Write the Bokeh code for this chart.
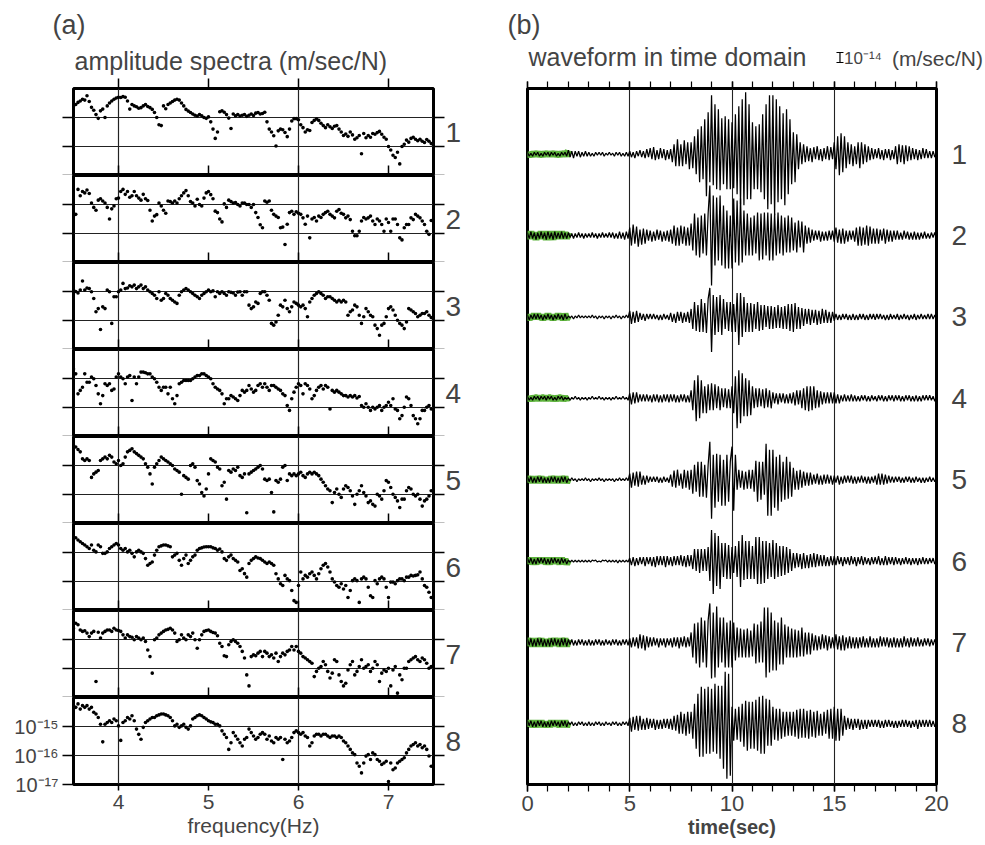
import numpy as np
from bokeh.plotting import figure
from bokeh.layouts import row, column
from bokeh.models import (Range1d, FixedTicker, LinearAxis, LogAxis, LogScale, Grid,
                          CustomJSTickFormatter, Label, Whisker, TeeHead, ColumnDataSource)
from bokeh.embed import file_html
from bokeh.resources import INLINE

FONT = "Liberation Sans"
GREEN = "#5db33c"

# ---------------- data ----------------
freq_range = (3.5, 7.5)      # Hz
freq_start = 3.5             # Hz, first spectral sample
freq_step = 0.025            # Hz
freq_ticks = [4, 5, 6, 7]
freq_grid = [4, 6]
amp_range = (1e-17, 1e-14)   # m/sec/N
amp_ticks = [1e-17, 1e-16, 1e-15]
amp_grid = [1e-16, 1e-15]

# log10 of amplitude spectra (m/sec/N), one list per station
spec1 = [-14.6, -14.55, -14.48, -14.43, -14.37, -14.4, -14.25, -14.45,
         -14.65, -14.75, -14.9, -15.03, -14.77, -14.71, -15.0, -14.6,
         -14.5, -14.43, -14.37, -14.33, -14.3, -14.31, -14.28, -14.3,
         -14.43, -14.71, -14.55, -14.6, -14.63, -14.68, -14.66, -14.6,
         -14.55, -14.62, -14.66, -14.72, -14.83, -15.0, -15.25, -15.28,
         -14.6, -14.7, -14.55, -14.5, -14.45, -14.4, -14.37, -14.4,
         -14.5, -14.6, -14.72, -14.78, -14.83, -14.88, -14.92, -14.95,
         -14.9, -14.94, -15.0, -15.03, -14.98, -15.15, -15.4, -15.72,
         -15.5, -14.8, -14.77, -14.82, -14.9, -15.02, -15.38, -14.88,
         -14.94, -14.9, -14.95, -14.92, -14.9, -14.96, -14.92, -14.88,
         -14.93, -14.85, -14.83, -14.88, -14.86, -14.82, -15.15, -15.4,
         -15.5, -15.63, -15.98, -15.46, -15.4, -15.42, -15.52, -15.66,
         -15.4, -15.12, -15.04, -15.04, -15.08, -15.25, -15.35, -15.5,
         -15.42, -15.45, -15.17, -15.1, -15.05, -15.1, -15.2, -15.28,
         -15.35, -15.25, -15.32, -15.38, -15.3, -15.28, -15.4, -15.5,
         -15.62, -15.57, -15.65, -15.5, -15.6, -15.75, -15.7, -15.62,
         -16.25, -15.55, -15.7, -15.62, -15.68, -15.55, -15.58, -15.52,
         -15.48, -15.58, -15.68, -15.75, -16.0, -16.12, -16.3, -16.38,
         -16.2, -16.6, -16.0, -15.92, -15.78, -15.85, -15.72, -15.68,
         -15.75, -15.8, -15.75, -15.82, -15.86, -15.76, -15.82, -15.9]
spec2 = [-15.0, -15.34, -14.48, -14.7, -14.55, -14.6, -14.5, -14.62,
         -14.95, -15.1, -15.2, -14.85, -14.8, -14.88, -14.95, -15.1,
         -15.5, -15.15, -15.05, -14.8, -14.78, -14.55, -14.48, -14.65,
         -14.55, -14.75, -14.7, -14.55, -14.7, -14.78, -14.85, -14.65,
         -14.8, -14.86, -15.2, -15.57, -15.4, -15.35, -14.95, -15.05,
         -15.2, -15.3, -14.88, -14.9, -14.95, -14.88, -14.95, -14.8,
         -14.7, -14.6, -14.52, -14.7, -14.9, -14.95, -15.05, -14.82,
         -15.0, -15.05, -14.78, -14.6, -14.55, -14.66, -14.8, -15.23,
         -15.28, -15.5, -15.6, -14.98, -15.1, -14.85, -14.9, -14.95,
         -14.93, -15.0, -15.05, -14.95, -14.95, -15.0, -15.0, -15.1,
         -15.0, -15.28, -15.45, -15.7, -15.8, -14.88, -14.92, -14.88,
         -15.2, -15.34, -15.4, -15.45, -15.8, -15.78, -16.38, -15.68,
         -15.28, -15.23, -15.34, -15.25, -15.3, -15.34, -15.46, -15.68,
         -15.4, -16.15, -15.5, -15.45, -15.57, -15.4, -15.45, -15.34,
         -15.28, -15.23, -15.34, -15.4, -15.46, -15.23, -15.17, -15.3,
         -15.34, -15.46, -15.4, -15.52, -15.92, -16.08, -16.08, -15.92,
         -15.57, -15.45, -15.5, -15.46, -15.4, -15.57, -15.69, -15.5,
         -15.57, -15.69, -15.92, -15.5, -15.62, -15.92, -15.5, -15.5,
         -15.69, -16.15, -16.22, -15.8, -15.69, -15.69, -15.46, -15.52,
         -15.34, -15.4, -15.46, -15.57, -15.69, -15.92, -16.03, -15.55]
spec3 = [-14.95, -15.0, -15.05, -14.95, -14.64, -14.95, -14.88, -14.9,
         -15.01, -15.24, -15.7, -15.59, -16.31, -15.53, -15.59, -14.95,
         -15.01, -16.1, -15.18, -15.18, -15.01, -14.95, -14.72, -14.9,
         -14.88, -14.8, -14.84, -14.78, -14.9, -14.84, -14.78, -14.9,
         -14.84, -14.95, -15.01, -15.07, -15.13, -15.24, -15.01, -15.3,
         -15.24, -15.07, -15.13, -15.24, -15.3, -15.36, -15.41, -15.13,
         -15.01, -14.95, -14.9, -14.95, -15.01, -15.07, -15.13, -15.18,
         -15.24, -15.13, -15.07, -15.01, -14.95, -15.01, -14.98, -15.18,
         -15.01, -15.07, -15.01, -15.07, -15.13, -15.01, -15.03, -15.05,
         -15.13, -15.02, -15.01, -15.13, -15.01, -15.01, -15.47, -15.59,
         -15.53, -15.36, -15.41, -15.07, -15.01, -15.01, -15.13, -15.3,
         -16.1, -16.16, -16.05, -15.82, -15.47, -15.53, -15.3, -15.59,
         -15.7, -15.53, -15.36, -15.41, -15.47, -15.53, -15.47, -15.59,
         -15.87, -15.36, -15.24, -15.13, -15.07, -15.01, -15.07, -15.13,
         -15.24, -15.18, -15.18, -15.24, -15.3, -15.36, -15.3, -15.36,
         -15.3, -15.36, -15.82, -15.7, -15.64, -15.47, -15.53, -15.82,
         -16.1, -15.87, -15.59, -15.7, -15.82, -15.87, -16.16, -16.28,
         -16.51, -16.16, -16.1, -15.87, -15.59, -15.53, -15.64, -15.82,
         -15.99, -16.1, -16.16, -16.28, -16.05, -15.59, -15.64, -15.7,
         -15.76, -15.87, -15.82, -15.76, -15.76, -15.7, -15.82, -15.9]
spec4 = [-14.67, -14.84, -15.53, -15.41, -15.3, -14.84, -15.13, -15.13,
         -14.95, -15.01, -15.24, -15.53, -15.87, -15.59, -15.18, -15.24,
         -15.18, -15.41, -15.36, -14.95, -14.84, -14.95, -15.01, -15.18,
         -14.95, -14.9, -15.76, -14.95, -15.18, -14.95, -14.78, -14.78,
         -14.8, -14.84, -14.84, -14.95, -15.01, -15.13, -15.3, -15.41,
         -15.3, -15.3, -15.53, -15.3, -15.7, -15.87, -15.59, -15.18,
         -15.13, -15.07, -15.07, -15.07, -15.07, -15.01, -14.95, -14.9,
         -14.9, -14.84, -14.84, -14.9, -14.95, -15.01, -15.18, -15.3,
         -15.36, -15.41, -15.53, -15.87, -15.7, -15.7, -15.59, -15.64,
         -15.7, -15.76, -15.59, -15.41, -15.47, -15.41, -15.24, -15.36,
         -15.47, -15.41, -15.24, -15.18, -15.3, -15.18, -15.3, -15.41,
         -15.24, -15.24, -15.3, -15.36, -15.41, -15.53, -15.59, -15.93,
         -16.1, -15.7, -15.47, -15.3, -15.18, -15.24, -15.53, -15.18,
         -15.24, -15.36, -15.7, -15.59, -15.41, -15.3, -15.24, -15.36,
         -15.24, -15.3, -16.05, -15.41, -15.47, -15.41, -15.47, -15.53,
         -15.59, -15.59, -15.64, -15.59, -15.64, -15.59, -15.67, -15.62,
         -15.93, -15.99, -15.87, -15.99, -16.1, -15.99, -16.05, -15.99,
         -15.93, -16.1, -15.99, -15.93, -15.82, -15.93, -15.7, -16.05,
         -16.1, -16.39, -16.28, -15.99, -15.64, -15.7, -15.93, -16.28,
         -16.39, -16.56, -16.39, -16.1, -16.1, -15.99, -15.93, -16.05]
spec5 = [-14.3, -14.36, -14.45, -14.53, -14.77, -14.83, -14.77, -14.83,
         -15.41, -15.29, -15.23, -15.17, -14.83, -14.77, -14.71, -14.77,
         -14.65, -14.71, -14.88, -14.94, -14.83, -15.0, -14.94, -14.71,
         -14.53, -14.48, -14.42, -14.53, -14.59, -14.65, -14.71, -14.77,
         -14.94, -15.06, -15.29, -15.64, -15.06, -14.94, -14.83, -14.71,
         -14.77, -14.83, -14.88, -14.94, -15.0, -15.12, -15.17, -15.23,
         -15.99, -15.35, -15.41, -15.47, -15.0, -14.94, -15.06, -15.52,
         -15.64, -15.93, -16.05, -15.81, -15.29, -14.77, -14.83, -14.88,
         -15.06, -15.12, -15.7, -15.58, -16.16, -15.17, -15.23, -15.12,
         -15.17, -15.06, -15.35, -15.41, -15.29, -16.63, -15.29, -15.23,
         -15.17, -15.12, -15.06, -15.0, -15.12, -15.47, -15.52, -15.47,
         -15.93, -16.6, -15.52, -15.58, -15.47, -15.06, -15.0, -15.52,
         -15.29, -15.35, -15.29, -15.35, -15.29, -15.23, -15.35, -15.41,
         -15.29, -15.23, -15.29, -15.23, -15.29, -15.35, -15.47, -15.58,
         -15.7, -15.81, -15.87, -16.28, -15.93, -15.81, -15.99, -16.1,
         -15.81, -15.7, -15.76, -15.87, -16.05, -16.34, -15.99, -15.87,
         -15.7, -15.93, -16.05, -16.28, -16.22, -16.34, -16.4, -15.99,
         -16.05, -16.16, -15.87, -15.52, -15.58, -15.76, -15.99, -16.1,
         -16.22, -16.45, -16.16, -16.16, -15.87, -15.76, -15.81, -15.99,
         -16.05, -15.99, -16.16, -16.4, -16.22, -16.16, -16.05, -15.87]
spec6 = [-14.51, -14.49, -14.57, -14.63, -14.69, -14.74, -14.8, -14.86,
         -14.74, -14.92, -14.98, -14.74, -14.8, -15.03, -15.03, -14.98,
         -14.86, -14.8, -14.74, -14.69, -14.74, -14.86, -14.92, -14.86,
         -14.98, -14.92, -15.03, -15.15, -14.98, -14.92, -14.98, -15.03,
         -15.21, -15.44, -15.38, -15.33, -15.09, -14.92, -14.8, -14.77,
         -14.74, -14.74, -14.77, -14.8, -15.15, -15.09, -15.03, -15.27,
         -15.44, -15.21, -15.09, -15.38, -15.27, -15.15, -15.09, -14.92,
         -14.86, -14.84, -14.81, -14.8, -14.8, -14.8, -14.84, -14.86,
         -14.92, -14.88, -14.98, -15.21, -15.27, -15.15, -15.09, -15.21,
         -15.27, -15.33, -15.62, -15.56, -15.73, -15.85, -15.38, -15.27,
         -15.21, -15.15, -15.19, -15.21, -15.27, -15.33, -15.38, -15.33,
         -15.38, -15.44, -15.73, -15.91, -16.08, -16.14, -15.79, -15.91,
         -15.97, -16.31, -16.66, -16.72, -16.14, -15.67, -15.91, -15.79,
         -15.85, -15.73, -15.67, -15.79, -15.91, -15.73, -15.56, -15.44,
         -15.38, -15.5, -15.67, -15.91, -16.02, -16.14, -16.2, -16.08,
         -16.26, -16.14, -16.55, -16.31, -15.97, -15.91, -15.97, -16.72,
         -15.91, -15.85, -15.91, -16.2, -16.49, -16.55, -15.97, -16.08,
         -15.91, -15.85, -15.91, -16.2, -16.55, -16.02, -16.02, -16.08,
         -15.97, -15.91, -15.91, -15.97, -15.85, -15.85, -15.79, -15.81,
         -15.79, -15.77, -15.67, -15.91, -16.14, -16.2, -16.37, -16.55]
spec7 = [-14.61, -14.44, -14.49, -14.67, -14.72, -14.7, -14.78, -14.9,
         -14.78, -14.72, -16.45, -14.75, -14.95, -14.78, -14.72, -14.67,
         -14.67, -14.72, -14.61, -14.67, -14.69, -14.72, -14.84, -14.95,
         -14.84, -14.9, -14.92, -15.01, -14.9, -14.95, -15.01, -14.95,
         -15.07, -15.36, -15.59, -16.16, -15.01, -14.95, -14.84, -14.78,
         -14.72, -14.67, -14.65, -14.61, -14.67, -14.78, -15.07, -15.01,
         -14.84, -14.95, -15.01, -14.84, -14.9, -14.78, -15.01, -15.3,
         -15.01, -14.84, -14.72, -14.69, -14.67, -14.72, -14.76, -14.78,
         -14.87, -15.13, -15.24, -15.56, -15.59, -15.18, -15.07, -15.01,
         -15.07, -15.13, -15.24, -15.41, -15.64, -16.22, -16.6, -15.59,
         -15.53, -15.56, -15.47, -15.41, -15.59, -15.41, -15.47, -15.59,
         -15.53, -15.64, -15.47, -15.76, -15.59, -15.47, -15.53, -15.41,
         -15.36, -15.24, -15.36, -15.24, -15.41, -15.47, -15.59, -15.64,
         -15.7, -15.76, -15.82, -16.28, -16.1, -15.99, -15.93, -15.76,
         -15.87, -16.1, -16.33, -16.16, -15.7, -15.76, -16.22, -16.45,
         -16.6, -16.51, -16.05, -15.87, -15.76, -16.22, -16.1, -15.93,
         -15.7, -15.99, -15.93, -15.87, -16.1, -15.99, -15.76, -15.87,
         -16.45, -16.16, -16.05, -16.1, -15.99, -16.6, -16.05, -15.93,
         -16.85, -16.22, -16.39, -15.99, -15.99, -15.76, -15.7, -15.64,
         -15.59, -15.7, -15.76, -15.64, -15.7, -15.82, -15.99, -15.93]
spec8 = [-14.28, -14.34, -14.22, -14.4, -14.28, -14.34, -14.28, -14.4,
         -14.34, -14.51, -14.57, -14.69, -14.92, -15.53, -14.92, -14.86,
         -14.8, -14.86, -14.74, -14.8, -14.98, -15.48, -14.86, -14.8,
         -14.69, -14.74, -14.63, -14.8, -15.09, -15.27, -15.44, -15.03,
         -14.86, -14.8, -14.74, -14.69, -14.69, -14.63, -14.6, -14.57,
         -14.57, -14.6, -14.63, -14.69, -14.8, -14.98, -14.92, -15.03,
         -14.98, -14.92, -15.03, -15.09, -14.98, -14.74, -14.69, -14.63,
         -14.6, -14.63, -14.69, -14.74, -14.8, -14.84, -14.86, -14.92,
         -14.92, -14.98, -15.15, -15.27, -15.38, -15.79, -15.56, -15.21,
         -15.33, -15.44, -15.56, -15.67, -15.44, -15.38, -15.09, -15.21,
         -15.33, -15.44, -15.38, -15.27, -15.21, -15.27, -15.44, -15.33,
         -15.5, -15.56, -15.38, -15.44, -15.38, -16.14, -15.44, -15.56,
         -15.5, -15.38, -15.21, -15.15, -15.21, -15.27, -15.21, -15.33,
         -15.38, -15.67, -15.56, -15.33, -15.27, -15.27, -15.33, -15.27,
         -15.27, -15.33, -15.38, -15.33, -15.33, -15.38, -15.33, -15.38,
         -15.5, -15.56, -15.67, -15.79, -15.91, -15.97, -16.26, -16.37,
         -16.6, -16.26, -16.02, -15.97, -16.14, -15.91, -15.97, -16.14,
         -16.2, -16.31, -16.26, -16.2, -16.9, -16.26, -16.49, -16.43,
         -16.26, -16.2, -16.14, -16.08, -15.91, -15.79, -15.67, -15.62,
         -15.56, -15.67, -15.62, -15.73, -15.67, -15.79, -16.02, -16.37]

time_range = (0, 20)         # s
time_ticks = [0, 5, 10, 15, 20]
time_minor = list(range(0, 21))
time_grid = [5, 10, 15]
wave_dt = 1.0 / 12           # s between samples
wave_unit = 1e-15            # m/sec/N per list unit
noise_window_end = 2.0       # s (green pre-event window)
scale_bar_amp = 1e-14        # m/sec/N

# waveforms, 12 samples per second, in units of 1e-15 m/sec/N
wave1 = [2, -2, 1, -2, 2, -1, 2, -2, 1, -2, 2, -1,
         2, -2, 2, -1, 2, -2, 1, -2, 2, -1, 2, -2,
         4, -3, 3, -4, 3, -2, 3, -3, 2, -2, 3, -2,
         2, -2, 1, -2, 2, -1, 2, -1, 2, -2, 1, -1,
         2, -1, 1, -2, 2, -1, 2, -2, 1, -2, 2, -2,
         3, -3, 2, -4, 3, -2, 4, -3, 3, -4, 5, -3,
         6, -5, 7, -6, 4, -5, 6, -4, 5, -6, 4, -5,
         5, -8, 10, -12, 15, -12, 10, -12, 14, -10, 12, -15,
         12, -14, 18, -20, 25, -28, 28, -25, 35, -42, 42, -28,
         59, -31, 50, -35, 45, -36, 36, -30, 38, -35, 35, -35,
         32, -34, 40, -40, 48, -50, 55, -51, 62, -45, 50, -45,
         32, -35, 28, -35, 30, -38, 40, -45, 50, -55, 59, -50,
         59, -61, 55, -48, 48, -45, 41, -51, 45, -40, 35, -30,
         22, -28, 20, -15, 12, -10, 10, -8, 8, -7, 6, -8,
         7, -5, 8, -6, 5, -7, 6, -5, 8, -6, 7, -5,
         12, -15, 18, -21, 21, -18, 18, -14, 12, -10, 10, -12,
         8, -10, 12, -14, 12, -10, 10, -8, 8, -6, 6, -5,
         5, -4, 6, -5, 4, -6, 5, -4, 5, -6, 4, -5,
         8, -10, 10, -8, 9, -10, 9, -7, 8, -6, 6, -5,
         5, -6, 4, -5, 6, -4, 5, -4, 3, -4, 3, -3,
         2]
wave2 = [3, -3, 4, -3, 3, -4, 3, -3, 4, -3, 3, -4,
         4, -3, 3, -4, 4, -3, 3, -3, 4, -3, 3, -3,
         3, -2, 2, -3, 2, -2, 3, -2, 2, -3, 2, -2,
         2, -2, 3, -2, 2, -3, 2, -2, 3, -2, 2, -2,
         3, -2, 3, -3, 2, -3, 4, -3, 3, -4, 4, -3,
         8, -10, 11, -8, 9, -11, 6, -9, 7, -8, 6, -5,
         5, -6, 4, -5, 6, -4, 5, -6, 4, -5, 5, -6,
         6, -8, 10, -10, 8, -10, 10, -8, 9, -10, 8, -10,
         12, -15, 22, -20, 18, -22, 20, -18, 22, -20, 22, 50,
         -50, 40, -30, 38, -25, 40, -30, 30, -33, 25, -33, 20,
         -33, 37, -27, 35, -30, 37, -27, 25, -20, 22, -20, 18,
         -20, 20, -18, 23, -25, 22, -24, 23, -20, 23, -25, 22,
         -25, 22, -20, 23, -18, 20, -20, 18, -17, 20, -17, 18,
         -15, 13, -17, 15, -12, 14, -17, 10, -8, 8, -7, 6,
         -5, 5, -4, 5, -6, 4, -5, 4, -5, 5, -4, 5,
         -6, 8, -7, 6, -8, 7, -8, 5, -6, 5, -4, 5,
         -6, 8, -10, 9, -10, 8, -9, 10, -10, 9, -8, 7,
         -8, 7, -8, 6, -5, 7, -8, 6, -6, 5, -6, 5,
         -4, 5, -4, 3, -4, 5, -3, 4, -4, 3, -4, 4,
         -4, 3, -4, 3, -3, 4, -3, 2, -3, 3, -2, 3,
         -2]
wave3 = [2, -3, 2, -2, 3, -2, 3, -2, 2, -3, 2, -2,
         3, -2, 2, -3, 2, -2, 3, -2, 2, -3, 3, -2,
         1, -1, 1, -2, 1, -1, 2, -1, 1, -1, 1, -1,
         1, -1, 2, -1, 1, -2, 1, -1, 1, -2, 1, -1,
         1, -2, 1, -1, 2, -1, 1, -2, 1, -1, 2, -1,
         6, -7, 5, -6, 6, -5, 4, -3, 3, -4, 3, -2,
         3, -2, 3, -2, 2, -3, 2, -3, 3, -2, 2, -3,
         4, -5, 3, -6, 5, -4, 5, -6, 4, -5, 5, -6,
         8, -12, 15, -14, 12, -15, 18, -15, 14, -16, 18, 29,
         -35, 22, -18, 20, -15, 22, -18, 18, -12, 15, -14, 15,
         -15, 13, -15, 24, -28, 24, -20, 20, -15, 14, -15, 14,
         -15, 13, -12, 15, -14, 12, -13, 12, -10, 11, -12, 11,
         -12, 10, -11, 12, -11, 10, -12, 11, -12, 13, -14, 13,
         -15, 14, -12, 10, -12, 9, -9, 8, -7, 8, -8, 7,
         -6, 7, -8, 6, -7, 8, -6, 7, -6, 5, -6, 5,
         -4, 3, -3, 2, -3, 3, -2, 3, -3, 2, -3, 3,
         -3, 2, -3, 3, -2, 3, -3, 2, -3, 3, -2, 3,
         -3, 3, -2, 3, -2, 2, -3, 2, -3, 3, -2, 2,
         -2, 3, -3, 2, -2, 3, -2, 2, -3, 2, -2, 3,
         -3, 2, -2, 3, -2, 2, -2, 3, -2, 3, -2, 2,
         -2]
wave4 = [2, -2, 1, -2, 2, -1, 2, -2, 2, -1, 2, -2,
         2, -1, 2, -2, 1, -2, 2, -1, 2, -2, 1, -1,
         1, -2, 1, -1, 2, -1, 1, -2, 1, -1, 1, -2,
         1, -1, 2, -1, 1, -1, 2, -1, 1, -2, 1, -1,
         1, -2, 1, -1, 2, -1, 1, -1, 2, -1, 1, -2,
         5, -6, 6, -5, 6, -4, 4, -3, 4, -3, 4, -3,
         3, -4, 4, -3, 4, -4, 3, -4, 4, -3, 4, -4,
         4, -3, 4, -4, 3, -4, 4, -3, 4, -4, 3, -4,
         8, -12, 18, -23, 23, -20, 18, -15, 12, -15, 14, -12,
         15, -12, 14, -10, 12, -12, 10, -9, 10, -10, 9, -10,
         12, -15, 22, -30, 28, -25, 25, -18, 20, -18, 18, -17,
         12, -10, 10, -9, 10, -8, 9, -10, 10, -9, 8, -10,
         6, -5, 5, -6, 5, -4, 5, -5, 4, -5, 5, -5,
         6, -7, 8, -6, 8, -10, 10, -12, 12, -13, 12, -12,
         12, -10, 8, -9, 7, -6, 6, -5, 6, -5, 6, -5,
         6, -5, 4, -5, 3, -3, 4, -3, 3, -3, 4, -3,
         3, -3, 2, -3, 3, -2, 3, -3, 2, -3, 3, -2,
         2, -3, 3, -2, 3, -3, 2, -3, 3, -2, 3, -3,
         3, -2, 3, -3, 2, -3, 3, -2, 3, -3, 2, -3,
         3, -3, 2, -3, 3, -2, 3, -2, 3, -2, 2, -3,
         2]
wave5 = [3, -2, 3, -3, 2, -3, 3, -2, 3, -3, 2, -3,
         2, -3, 3, -2, 3, -3, 2, -3, 3, -2, 3, -3,
         1, -1, 2, -1, 1, -2, 1, -1, 1, -1, 2, -1,
         1, -2, 1, -1, 1, -1, 2, -1, 1, -2, 1, -1,
         1, -1, 1, -2, 1, -1, 2, -1, 1, -1, 2, -1,
         6, -8, 7, -6, 8, -7, 8, -5, 4, -5, 4, -3,
         3, -2, 3, -2, 3, -3, 2, -3, 3, -2, 2, -3,
         5, -7, 9, -8, 10, -6, 6, -9, 10, -8, 9, -10,
         10, -14, 15, -12, 18, -17, 18, -17, 15, -18, 15, 38,
         -39, 25, -28, 26, -22, 25, -26, 20, -26, 25, -22, 18,
         33, -31, 25, -10, 10, -8, 9, -10, 8, -9, 10, -9,
         10, -12, 19, -22, 18, -20, 18, -15, 36, -36, 30, -36,
         30, -28, 23, -31, 25, -22, 18, -20, 23, -19, 18, -17,
         12, -10, 9, -10, 10, -8, 8, -6, 7, -6, 7, -5,
         5, -4, 6, -5, 4, -5, 5, -4, 5, -4, 4, -5,
         4, -3, 4, -5, 3, -4, 4, -3, 4, -3, 4, -4,
         3, -4, 3, -3, 4, -3, 3, -4, 3, -4, 3, -3,
         4, -5, 6, -5, 6, -5, 5, -4, 4, -3, 3, -3,
         3, -2, 3, -3, 2, -3, 3, -2, 3, -3, 2, -3,
         3, -2, 2, -3, 2, -3, 2, -2, 3, -2, 2, -2,
         2]
wave6 = [3, -2, 3, -3, 2, -3, 3, -2, 3, -2, 3, -3,
         2, -3, 3, -2, 3, -2, 2, -3, 3, -2, 2, -3,
         1, -1, 1, -1, 1, -1, 1, -1, 1, -1, 1, -1,
         1, -1, 1, 0, 1, -1, 0, -1, 1, 0, 1, -1,
         1, -1, 1, -1, 1, -2, 1, -1, 1, -1, 1, -1,
         3, -4, 4, -5, 3, -4, 4, -3, 4, -5, 4, -3,
         4, -5, 4, -6, 5, -4, 5, -4, 5, -6, 5, -4,
         4, -5, 5, -4, 5, -4, 6, -5, 5, -6, 6, -5,
         6, -8, 12, -10, 12, -12, 12, -10, 12, -10, 14, -20,
         31, -33, 28, -25, 25, -28, 18, -16, 18, -18, 16, -18,
         14, -12, 15, -16, 20, -26, 26, -19, 20, -18, 20, -18,
         15, -18, 24, -23, 24, -23, 20, -22, 20, -18, 18, -16,
         21, -18, 18, -16, 15, -15, 15, -14, 14, -12, 12, -10,
         8, -7, 8, -6, 7, -8, 8, -7, 6, -7, 7, -6,
         8, -6, 7, -5, 6, -5, 6, -5, 4, -5, 5, -4,
         5, -4, 5, -3, 4, -5, 4, -3, 4, -4, 5, -3,
         4, -5, 4, -3, 5, -4, 4, -3, 3, -4, 4, -3,
         4, -3, 5, -4, 3, -4, 5, -4, 4, -3, 4, -4,
         4, -3, 3, -4, 3, -3, 4, -3, 3, -4, 3, -3,
         3, -4, 3, -3, 4, -3, 3, -3, 3, -2, 3, -3,
         2]
wave7 = [4, -3, 4, -4, 3, -4, 4, -3, 4, -4, 3, -4,
         3, -4, 4, -3, 4, -3, 3, -4, 4, -3, 4, -4,
         3, -2, 3, -3, 2, -3, 3, -2, 3, -3, 2, -3,
         3, -3, 2, -3, 3, -2, 3, -3, 2, -3, 3, -2,
         2, -3, 3, -2, 3, -3, 2, -3, 3, -2, 3, -3,
         4, -5, 5, -4, 5, -6, 8, -6, 7, -8, 6, -5,
         5, -4, 5, -3, 4, -5, 4, -3, 4, -5, 4, -3,
         4, -5, 5, -4, 5, -6, 5, -4, 6, -5, 5, -4,
         10, -15, 19, -21, 20, -25, 25, -20, 22, -25, 22, 39,
         -36, 30, -35, 36, -25, 25, -20, 25, -25, 20, -25, 22,
         -25, 20, -18, 15, -15, 14, -15, 13, -15, 14, -15, 12,
         -14, 19, -21, 18, -20, 21, -20, 35, -35, 35, -30, 30,
         -28, 22, -28, 20, -22, 25, -22, 18, -15, 16, -15, 14,
         -15, 13, -15, 12, -14, 15, -14, 10, -12, 10, -12, 9,
         -8, 7, -8, 6, -7, 8, -6, 7, -8, 6, -6, 5,
         -6, 8, -7, 6, -8, 7, -8, 5, -6, 6, -6, 5,
         -6, 5, -6, 5, -5, 6, -5, 4, -5, 6, -5, 4,
         -5, 4, -5, 6, -4, 5, -4, 5, -5, 4, -5, 5,
         -5, 4, -5, 4, -5, 6, -4, 4, -5, 5, -4, 4,
         -4, 5, -4, 3, -4, 4, -3, 4, -4, 3, -3, 3,
         -2]
wave8 = [3, -2, 3, -3, 2, -3, 3, -2, 3, -3, 2, -3,
         2, -3, 3, -2, 3, -2, 2, -3, 3, -2, 3, -3,
         2, -1, 2, -2, 1, -2, 2, -1, 2, -2, 1, -2,
         2, -2, 1, -2, 2, -1, 2, -2, 1, -2, 2, -1,
         1, -2, 2, -1, 2, -2, 1, -2, 2, -1, 2, -2,
         6, -8, 7, -6, 8, -7, 8, -6, 5, -6, 6, -5,
         5, -4, 5, -6, 4, -5, 4, -5, 5, -4, 5, -5,
         5, -6, 8, -7, 9, -10, 12, -10, 10, -12, 12, -10,
         12, -15, 20, -25, 30, -33, 37, -33, 35, -30, 37, -30,
         35, -28, 40, -30, 38, -35, 38, -45, 52, -55, 50, -52,
         17, -17, 15, -16, 17, -18, 20, -23, 23, -27, 22, -25,
         22, -25, 24, -27, 27, -30, 28, -30, 25, -22, 24, -22,
         17, -16, 15, -17, 15, -15, 12, -13, 12, -12, 12, -12,
         12, -13, 14, -15, 15, -14, 15, -14, 13, -15, 14, -13,
         12, -14, 13, -12, 10, -12, 12, -10, 14, -15, 15, -15,
         17, -17, 15, -17, 15, -12, 8, -6, 6, -5, 5, -6,
         5, -4, 5, -6, 4, -5, 4, -5, 4, -3, 4, -3,
         4, -3, 4, -4, 3, -4, 4, -3, 4, -3, 3, -4,
         3, -4, 3, -3, 4, -3, 4, -3, 3, -4, 3, -3,
         4, -5, 4, -3, 4, -3, 4, -3, 4, -3, 3, -3,
         2]

station_names = ["1", "2", "3", "4", "5", "6", "7", "8"]
spectra = [spec1, spec2, spec3, spec4, spec5, spec6, spec7, spec8]
waves = [wave1, wave2, wave3, wave4, wave5, wave6, wave7, wave8]

SUP = {"-": "\u207b", "0": "\u2070", "1": "\u00b9", "2": "\u00b2", "3": "\u00b3",
       "4": "\u2074", "5": "\u2075", "6": "\u2076", "7": "\u2077", "8": "\u2078", "9": "\u2079"}


def sup_power(e):
    return "10" + "".join(SUP[c] for c in str(e))


def style_axis(ax, out, inn=0, labels=True, size="21px"):
    ax.axis_line_color = None
    ax.major_tick_line_color = "black"
    ax.major_tick_line_width = 1.5
    ax.major_tick_out = out
    ax.major_tick_in = inn
    ax.minor_tick_line_color = None
    ax.major_label_text_font = FONT
    ax.axis_label_text_font = FONT
    ax.axis_label_text_font_style = "normal"
    if labels:
        ax.major_label_text_font_size = size
    else:
        ax.major_label_text_color = None
        ax.major_label_text_font_size = "1px"
        ax.major_label_standoff = 0


def name_axis(ax, code, args, standoff):
    ax.axis_line_color = None
    ax.major_tick_line_color = None
    ax.minor_tick_line_color = None
    ax.major_tick_out = 0
    ax.major_tick_in = 0
    ax.major_label_standoff = standoff
    ax.major_label_text_font = FONT
    ax.major_label_text_font_size = "28px"
    ax.formatter = CustomJSTickFormatter(args=args, code=code)


HEAD_H = 76
LEFT_W, RIGHT_W = 493, 492
A_L, A_R = 73, 60          # borders around the spectra frames
B_L, B_R = 34, 49          # borders around the waveform frame
PANEL_H = 87

# ---------------- panel (a) header ----------------
hz_per_px = (freq_range[1] - freq_range[0]) / (LEFT_W - A_L - A_R)
ha = figure(width=LEFT_W, height=HEAD_H,
            x_range=Range1d(freq_range[0] - A_L * hz_per_px, freq_range[1] + A_R * hz_per_px),
            y_range=Range1d(0, HEAD_H), x_axis_type=None, y_axis_type=None,
            output_backend="svg", toolbar_location=None, frame_align=False,
            min_border_left=0, min_border_right=0, min_border_top=0, min_border_bottom=0)
ha.outline_line_color = None
ha.add_layout(Label(x=freq_range[0] - 21 * hz_per_px, y=52, text="(a)", text_font=FONT,
                    text_font_size="27px", text_baseline="alphabetic"))
ha.add_layout(Label(x=freq_range[0] + 1 * hz_per_px, y=16, text="amplitude spectra (m/sec/N)",
                    text_font=FONT, text_font_size="25px", text_baseline="alphabetic"))

# ---------------- panel (a): spectra ----------------
spec_figs = [ha]
n = len(spectra)
for k, vals in enumerate(spectra):
    first, last = k == 0, k == n - 1
    h = PANEL_H + (12 if first else 0) + (61 if last else 0)
    p = figure(width=LEFT_W, height=h,
               x_range=Range1d(*freq_range), y_range=Range1d(*amp_range),
               x_axis_type=None, y_axis_type=None,
               output_backend="svg", toolbar_location=None,
               min_border_left=A_L, min_border_right=A_R,
               min_border_top=12 if first else 0,
               min_border_bottom=61 if last else 0)
    p.y_scale = LogScale()
    p.outline_line_color = "black"
    p.outline_line_width = 3
    p.add_layout(Grid(dimension=0, ticker=FixedTicker(ticks=freq_grid),
                      grid_line_color="#222222", grid_line_width=1.2))
    p.add_layout(Grid(dimension=1, ticker=FixedTicker(ticks=amp_grid),
                      grid_line_color="#222222", grid_line_width=1.2))

    left = LogAxis(ticker=FixedTicker(ticks=amp_ticks))
    if last:
        style_axis(left, 11, labels=True, size="20px")
        left.formatter = CustomJSTickFormatter(code="""
            const sup = {"-": "\u207b", "0": "\u2070", "1": "\u00b9", "2": "\u00b2", "3": "\u00b3",
                         "4": "\u2074", "5": "\u2075", "6": "\u2076", "7": "\u2077", "8": "\u2078", "9": "\u2079"};
            const e = Math.round(Math.log10(tick));
            return "10" + String(e).split("").map(c => sup[c]).join("");
        """)
        left.major_label_standoff = 4
    else:
        style_axis(left, 11, labels=False)
    p.add_layout(left, "left")
    right = LogAxis(ticker=FixedTicker(ticks=amp_ticks))
    style_axis(right, 11, labels=False)
    p.add_layout(right, "right")
    names = LogAxis(ticker=FixedTicker(ticks=[10 ** -15.5]))
    name_axis(names, "return name;", dict(name=station_names[k]), 1)
    p.add_layout(names, "right")

    if first:
        top = LinearAxis(ticker=FixedTicker(ticks=freq_ticks))
        style_axis(top, 10, labels=False)
        p.add_layout(top, "above")
    if last:
        bot = LinearAxis(ticker=FixedTicker(ticks=freq_ticks), axis_label="frequency(Hz)")
        style_axis(bot, 6, labels=True, size="21px")
        bot.major_label_standoff = 4
        bot.axis_label_text_font_size = "21px"
        bot.axis_label_standoff = 2
        p.add_layout(bot, "below")
    else:
        bot = LinearAxis(ticker=FixedTicker(ticks=freq_ticks))
        style_axis(bot, 0, inn=10, labels=False)
        p.add_layout(bot, "below")

    freqs = freq_start + freq_step * np.arange(len(vals))
    p.scatter(freqs, 10.0 ** np.array(vals), size=3.6, color="black", line_color=None)
    spec_figs.append(p)

# ---------------- panel (b) header ----------------
sec_per_px = (time_range[1] - time_range[0]) / (RIGHT_W - B_L - B_R)
hb = figure(width=RIGHT_W, height=HEAD_H,
            x_range=Range1d(time_range[0] - B_L * sec_per_px, time_range[1] + B_R * sec_per_px),
            y_range=Range1d(0, HEAD_H), x_axis_type=None, y_axis_type=None,
            output_backend="svg", toolbar_location=None, frame_align=False,
            min_border_left=0, min_border_right=0, min_border_top=0, min_border_bottom=0)
hb.outline_line_color = None
hb.add_layout(Label(x=time_range[0] - 20 * sec_per_px, y=52, text="(b)", text_font=FONT,
                    text_font_size="27px", text_baseline="alphabetic"))
hb.add_layout(Label(x=time_range[0] + 1 * sec_per_px, y=20, text="waveform in time domain",
                    text_font=FONT, text_font_size="25px", text_baseline="alphabetic"))
bar_x = 15.28
bar_lo = 14
bar_src = ColumnDataSource(dict(base=[bar_x], lower=[bar_lo],
                                upper=[bar_lo + scale_bar_amp / wave_unit]))
hb.add_layout(Whisker(source=bar_src, base="base", lower="lower", upper="upper",
                      dimension="height", line_color="black", line_width=1.2,
                      lower_head=TeeHead(size=7, line_width=1.2),
                      upper_head=TeeHead(size=7, line_width=1.2)))
hb.add_layout(Label(x=bar_x + 4 * sec_per_px, y=18,
                    text=sup_power(int(round(np.log10(scale_bar_amp)))),
                    text_font=FONT, text_font_size="17px", text_baseline="alphabetic"))
hb.add_layout(Label(x=bar_x + 52 * sec_per_px, y=18, text="(m/sec/N)",
                    text_font=FONT, text_font_size="21px", text_baseline="alphabetic"))

# ---------------- panel (b): waveforms ----------------
spacing = 81.37
bottom_pad = 60.7
top_pad = 65.7
offsets = [(n - 1 - k) * spacing for k in range(n)]
y_top = offsets[0] + top_pad
wf = figure(width=RIGHT_W, height=845 - HEAD_H,
            x_range=Range1d(*time_range), y_range=Range1d(-bottom_pad, y_top),
            x_axis_type=None, y_axis_type=None,
            output_backend="svg", toolbar_location=None,
            min_border_left=B_L, min_border_right=B_R, min_border_top=12, min_border_bottom=61)
wf.outline_line_color = "black"
wf.outline_line_width = 3
wf.add_layout(Grid(dimension=0, ticker=FixedTicker(ticks=time_grid),
                   grid_line_color="#222222", grid_line_width=1.1))
for loc in ("below", "above"):
    ax = LinearAxis(ticker=FixedTicker(ticks=time_ticks, minor_ticks=time_minor))
    style_axis(ax, 7, labels=(loc == "below"), size="22px")
    ax.minor_tick_line_color = "black"
    ax.minor_tick_line_width = 1.2
    ax.minor_tick_out = 7
    ax.minor_tick_in = 0
    if loc == "below":
        ax.axis_label = "time(sec)"
        ax.axis_label_text_font_size = "20px"
        ax.axis_label_text_font_style = "bold"
        ax.major_label_standoff = 4
        ax.axis_label_standoff = 2
    wf.add_layout(ax, loc)
wnames = LinearAxis(ticker=FixedTicker(ticks=offsets))
name_axis(wnames, "return names[n - 1 - Math.round(tick / spacing)];",
          dict(names=station_names, n=n, spacing=spacing), 15)
wf.add_layout(wnames, "right")

for k, w in enumerate(waves):
    t = np.arange(len(w)) * wave_dt
    y = np.array(w, dtype=float) + offsets[k]
    m = t <= noise_window_end + 1e-9
    wf.line(t[m], y[m], line_color=GREEN, line_width=7)
    wf.line(t, y, line_color="black", line_width=1.25)

layout = row(column(*spec_figs, spacing=0), column(hb, wf, spacing=0), spacing=0)
open("out.html", "w").write(file_html(layout, INLINE))
